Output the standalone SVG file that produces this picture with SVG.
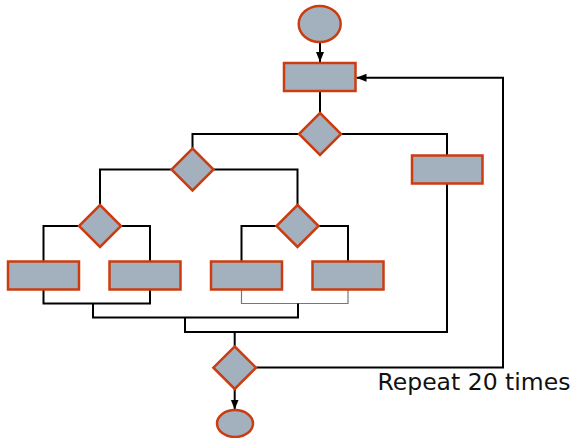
<svg xmlns="http://www.w3.org/2000/svg" width="573" height="438" viewBox="0 0 573 438">
<style>
.s{fill:#a3b1be;stroke:#cc3c10;stroke-width:2.5}
.c{fill:none;stroke:#000;stroke-width:2}
.g{fill:none;stroke:#777;stroke-width:1.2}
.t{font-family:"DejaVu Sans",Verdana,sans-serif;font-size:23.5px;fill:#111}
</style>
<defs>
<marker id="a" markerUnits="userSpaceOnUse" markerWidth="10" markerHeight="10" viewBox="0 0 10 10" refX="10" refY="5" orient="auto">
<path d="M0,1 L10,5 L0,9 Z" fill="#000"/>
</marker>
</defs>
<g id="connectors">
<path class="c" d="M320,42 V62" marker-end="url(#a)"/>
<path class="c" d="M320,91 V113"/>
<path class="c" d="M299,134 H192.5 V148.5"/>
<path class="c" d="M341,134 H447 V155"/>
<path class="c" d="M171.5,169.5 H100 V205"/>
<path class="c" d="M213.5,169.5 H297.5 V205"/>
<path class="c" d="M79,226 H43.5 V261"/>
<path class="c" d="M121,226 H150 V261"/>
<path class="c" d="M276.5,226 H241.5 V261"/>
<path class="c" d="M318.5,226 H348 V261"/>
<path class="c" d="M43.5,289.5 V303.5 H150 V289.5"/>
<path class="g" d="M241.5,289.5 V303.5 H348 V289.5"/>
<path class="c" d="M93,303.5 V317.5 H298 V303.5"/>
<path class="c" d="M185,317.5 V332 H447 V183.5"/>
<path class="c" d="M234.7,332 V346.5"/>
<path class="c" d="M256,367.5 H503 V77.7 H356.5" marker-end="url(#a)"/>
<path class="c" d="M234.7,389 V409.5" marker-end="url(#a)"/>
</g>
<g id="start"><ellipse class="s" cx="319.7" cy="24" rx="21" ry="18"/></g>
<g id="box-top"><rect class="s" x="284" y="63" width="71.5" height="28"/></g>
<g id="dec-1"><path class="s" d="M320,113 L341,134 L320,155 L299,134 Z"/></g>
<g id="dec-2"><path class="s" d="M192.5,148.5 L213.5,169.5 L192.5,190.5 L171.5,169.5 Z"/></g>
<g id="box-right"><rect class="s" x="412" y="155.5" width="70.5" height="28"/></g>
<g id="dec-3"><path class="s" d="M100,205 L121,226 L100,247 L79,226 Z"/></g>
<g id="dec-4"><path class="s" d="M297.5,205 L318.5,226 L297.5,247 L276.5,226 Z"/></g>
<g id="box-1"><rect class="s" x="8" y="261.5" width="71" height="28"/></g>
<g id="box-2"><rect class="s" x="109.5" y="261.5" width="71" height="28"/></g>
<g id="box-3"><rect class="s" x="211" y="261.5" width="71" height="28"/></g>
<g id="box-4"><rect class="s" x="312.5" y="261.5" width="71" height="28"/></g>
<g id="dec-5"><path class="s" d="M234.7,346.5 L256,367.7 L234.7,389 L213.4,367.7 Z"/></g>
<g id="end"><ellipse class="s" cx="235" cy="423.5" rx="18" ry="13.5"/></g>
<text class="t" x="377.5" y="390">Repeat 20 times</text>
</svg>
